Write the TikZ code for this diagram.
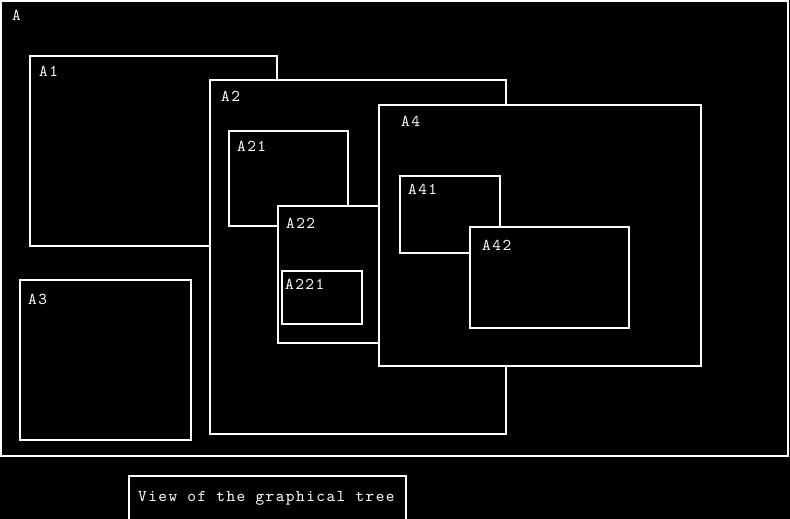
\documentclass[tikz,border=0pt]{standalone}
\usepackage{fontspec}
\newfontfamily\monofnt[LetterSpace=9]{lmmono10-regular.otf}
\begin{document}
\begin{tikzpicture}[x=1pt,y=-1pt,
  box/.style={draw=white,fill=black,line width=2pt},
  lab/.style={anchor=base west,inner sep=0pt,text=white,font=\monofnt\fontsize{16.5}{19}\selectfont}]
\useasboundingbox (0,0) rectangle (790,519);
\fill[black] (0,0) rectangle (790,519);
% A
\draw[box] (1,1) rectangle (788,456);
\node[lab] (lA) at (12,21) {A};
% A1
\draw[box] (30,56) rectangle (277,245.5);
\node[lab] (lA1) at (39,77) {A1};
% A2
\draw[box] (210,80) rectangle (506,434);
\node[lab] (lA2) at (221,102) {A2};
% A21
\draw[box] (229,131) rectangle (348,226);
\node[lab] (lA21) at (237,151) {A21};
% A22
\draw[box] (277.5,206) rectangle (390,342.5);
\node[lab] (lA22) at (286,228) {A22};
% A221
\draw[box] (282,271) rectangle (362,323.5);
\node[lab] (lA221) at (285,289) {A221};
% A3
\draw[box] (20,280) rectangle (191,440);
\node[lab] (lA3) at (28,304) {A3};
% A4
\draw[box] (379,105) rectangle (701,366);
\node[lab] (lA4) at (401,126) {A4};
% A41
\draw[box] (400,176) rectangle (500,253);
\node[lab] (lA41) at (408,194) {A41};
% A42
\draw[box] (470,227) rectangle (629,328);
\node[lab] (lA42) at (482,250) {A42};
% caption
\draw[box] (128.5,476) rectangle (406,522);
\node[lab] (cap) at (138,501) {View of the graphical tree};
\end{tikzpicture}
\end{document}
